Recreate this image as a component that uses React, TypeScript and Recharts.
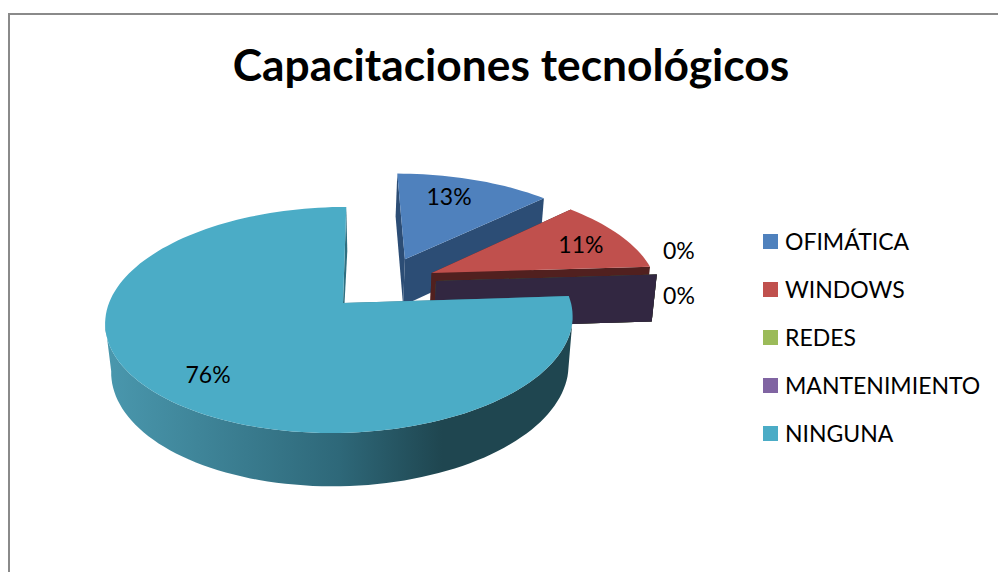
import { Legend, Pie, PieChart } from "recharts"

const categories = ["OFIMÁTICA", "WINDOWS", "REDES", "MANTENIMIENTO", "NINGUNA"]
const shares = [13, 11, 0, 0, 76]
const topColors = ["#4F81BD", "#C0504D", "#9BBB59", "#8064A2", "#4BACC6"]
const wallColors = ["#2C4D75", "#51201F", "#4C5E27", "#322741", "url(#ningunaWall)"]

// how far each slice is pulled out, in pie radii
const explode = [[0.285, -0.42], [0.4, -0.283], [0.415, -0.205], [0.415, -0.205], [0, 0]]
// where each percent label sits, in pie radii from the centre
const labelSpots = [[0.536, -1.12], [1.118, -0.57], [1.564, -0.506], [1.47, -0.071], [-0.532, 0.594]]

const rows = categories.map((name, i) => ({ name, value: shares[i], fill: topColors[i] }))

const FONT = "Lato, sans-serif"
const CX = 343
const CY = 303
const RADIUS = 231
// fake 3d: squash plus a little perspective, front of the pie is closer
const SQUASH = 110.5 / 231
const PERSP = 0.15
const BOTTOM = { cx: 342, cy: 351, rx: 228, ry: 115 }
// the big slice leans a bit, its top sits right of its bottom
const LEAN = 7.3

const project = (u: number, v: number, low = false) => {
  const w = 1 - PERSP * v
  if (low) return [BOTTOM.cx + (BOTTOM.rx * u) / w, BOTTOM.cy + (BOTTOM.ry * v) / w]
  return [CX + (RADIUS * u) / w, CY + (RADIUS * SQUASH * v) / w]
}

const toPath = (pts: number[][]) =>
  "M" + pts.map((p) => p[0].toFixed(1) + " " + p[1].toFixed(1)).join("L") + "Z"

const Slice = (props: any) => {
  const { startAngle, endAngle, fill } = props
  const i = categories.indexOf(props.payload?.name ?? props.name)
  const [ox, oy] = explode[i]
  const wall = wallColors[i]
  const big = i === 4

  const rim = (deg: number, low = false) => {
    const a = (deg * Math.PI) / 180
    const u = ox + Math.cos(a)
    const v = oy - Math.sin(a)
    const p = project(u, v, low)
    if (!big) return p
    const w = 1 - PERSP * v
    const narrow = low ? (-2 * u) / w - 1 : -3
    return [p[0] + narrow - (LEAN * v) / w, p[1]]
  }
  const steps = Math.max(1, Math.ceil(Math.abs(endAngle - startAngle) / 2))
  const angles: number[] = []
  for (let s = 0; s <= steps; s++) angles.push(startAngle + ((endAngle - startAngle) * s) / steps)

  const apex = project(ox, oy)
  const apexLow = project(ox, oy, true)
  const face = (deg: number) => toPath([apex, rim(deg), rim(deg, true), apexLow])
  // only the front of the rim is ever seen
  const front = angles.filter((a) => -Math.sin((a * Math.PI) / 180) > PERSP)
  const outer = toPath([...front.map((a) => rim(a)), ...[...front].reverse().map((a) => rim(a, true))])
  const top = toPath([apex, ...angles.map((a) => rim(a))])

  return (
    <g>
      {front.length > 1 && <path d={outer} fill={wall} />}
      <path d={face(startAngle)} fill={big ? "#2F6F80" : wall} />
      <path d={face(endAngle)} fill={big ? "#2F6F80" : wall} />
      <path d={top} fill={fill} />
    </g>
  )
}

const PercentLabel = (props: any) => {
  const i = categories.indexOf(props.payload?.name ?? props.name)
  const [x, y] = project(labelSpots[i][0], labelSpots[i][1])
  return (
    <text x={x} y={y} dy="0.36em" textAnchor="middle" fontFamily={FONT} fontSize={23} fill="#000">
      {Math.round(props.percent * 100)}%
    </text>
  )
}

const LegendList = ({ payload }: any) => (
  <div style={{ fontFamily: FONT, fontSize: 23, color: "#000" }}>
    {(payload || []).map((item: any) => (
      <div key={item.value} style={{ display: "flex", alignItems: "center", height: 48 }}>
        <span style={{ width: 15, height: 15, background: item.color, marginRight: 7 }} />
        {item.value}
      </div>
    ))}
  </div>
)

export default function App() {
  return (
    <div style={{ position: "absolute", left: 0, top: 0, width: 998, height: 572, overflow: "hidden", background: "#fff" }}>
      <div
        style={{
          position: "absolute",
          left: 8,
          top: 13,
          width: 990,
          height: 559,
          boxSizing: "border-box",
          borderLeft: "2px solid #8a8a8a",
          borderTop: "2px solid #8a8a8a",
        }}
      />
      <div
        style={{
          position: "absolute",
          left: 0,
          width: 1022,
          top: 33,
          textAlign: "center",
          fontFamily: FONT,
          fontWeight: 700,
          fontSize: 44.3,
          lineHeight: "62px",
          color: "#000",
        }}
      >
        Capacitaciones tecnológicos
      </div>
      <PieChart width={998} height={572} margin={{ top: 0, right: 0, bottom: 0, left: 0 }} style={{ position: "absolute", left: 0, top: 0 }}>
        <defs>
          <linearGradient id="ningunaWall" gradientUnits="userSpaceOnUse" x1={105} y1={0} x2={573} y2={0}>
            <stop offset="0" stopColor="#4A98AE" />
            <stop offset="0.5" stopColor="#2E6879" />
            <stop offset="0.72" stopColor="#1F4650" />
            <stop offset="1" stopColor="#1F4650" />
          </linearGradient>
        </defs>
        <Pie
          data={rows}
          dataKey="value"
          nameKey="name"
          cx={CX}
          cy={CY}
          outerRadius={RADIUS}
          startAngle={90}
          endAngle={-270}
          stroke="none"
          shape={Slice}
          label={PercentLabel}
          labelLine={false}
          isAnimationActive={false}
        />
        <Legend
          layout="vertical"
          align="right"
          verticalAlign="top"
          itemSorter={null}
          content={LegendList}
          wrapperStyle={{ left: 763, top: 217, right: "auto", width: 235 }}
        />
      </PieChart>
    </div>
  )
}
